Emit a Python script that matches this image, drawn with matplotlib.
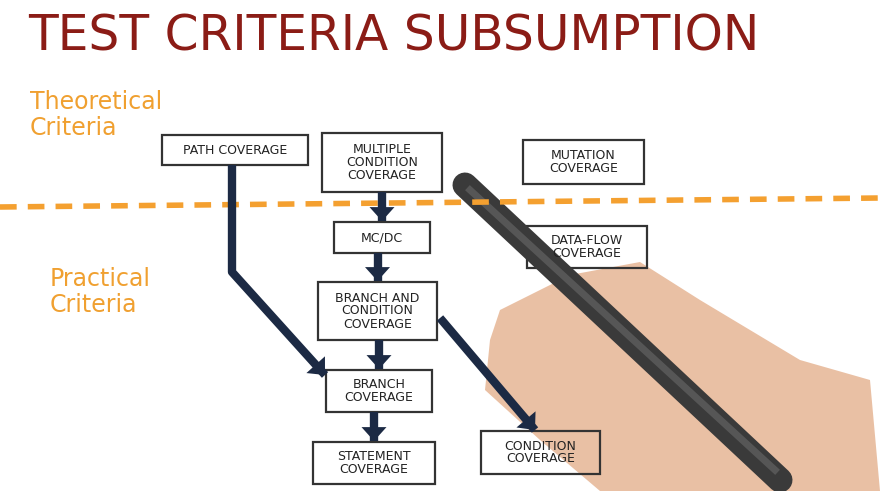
import matplotlib.pyplot as plt
from matplotlib.patches import Rectangle, Polygon

title = "TEST CRITERIA SUBSUMPTION"
zone_labels = ["Theoretical\nCriteria", "Practical\nCriteria"]
node_names = ["path", "mcc", "mut", "mcdc", "df", "bcc", "br", "st", "cond"]
node_labels = ["PATH COVERAGE", "MULTIPLE\nCONDITION\nCOVERAGE", "MUTATION\nCOVERAGE",
               "MC/DC", "DATA-FLOW\nCOVERAGE", "BRANCH AND\nCONDITION\nCOVERAGE",
               "BRANCH\nCOVERAGE", "STATEMENT\nCOVERAGE", "CONDITION\nCOVERAGE"]
edges = [("mcc", "mcdc"), ("mcdc", "bcc"), ("bcc", "br"), ("br", "st"),
         ("path", "br"), ("bcc", "cond")]

# layout (pixel boxes: x0, y0, x1, y1)
boxes = {"path": (162, 135, 308, 165), "mcc": (322, 133, 442, 192),
         "mut": (523, 140, 644, 184), "mcdc": (334, 222, 430, 253),
         "df": (527, 226, 647, 268), "bcc": (318, 282, 437, 340),
         "br": (326, 370, 432, 412), "st": (313, 442, 435, 484),
         "cond": (481, 431, 600, 474)}
ink = "#1c2a44"
fig = plt.figure(figsize=(8.8, 4.91), dpi=100)
ax = fig.add_axes([0, 0, 1, 1])
ax.set_xlim(0, 880)
ax.set_ylim(491, 0)
ax.axis("off")

# hand and pen (drawn first so the diagram stays readable)
ax.add_patch(Polygon([(500, 310), (570, 275), (640, 262), (700, 300), (800, 360),
                      (870, 380), (880, 491), (600, 491), (540, 440), (485, 390),
                      (490, 340)], fc="#e6b594", ec="none", alpha=0.85))
ax.plot([465, 780], [185, 480], color="#3a3a3a", lw=18, solid_capstyle="round")
ax.plot([470, 775], [190, 470], color="#6a6a6a", lw=5, alpha=0.6)

ax.text(28, 36, title, fontsize=35, color="#8b1c16", va="center", ha="left",
        family="DejaVu Sans")
ax.text(30, 115, zone_labels[0], fontsize=17, color="#f0a030", va="center", linespacing=1.1)
ax.text(50, 292, zone_labels[1], fontsize=17, color="#f0a030", va="center", linespacing=1.1)
ax.plot([0, 880], [207, 198], color="#f4a030", lw=4, ls=(0, (3, 2)))

for name, lab in zip(node_names, node_labels):
    x0, y0, x1, y1 = boxes[name]
    ax.add_patch(Rectangle((x0, y0), x1 - x0, y1 - y0, fill=False, ec="#333", lw=1.6))
    ax.text((x0 + x1) / 2, (y0 + y1) / 2, lab, ha="center", va="center",
            fontsize=9, color="#222", linespacing=1.0)

def arrow(pts):
    xs, ys = zip(*pts)
    ax.plot(xs, ys, color=ink, lw=6, solid_capstyle="butt")
    ax.annotate("", xy=pts[-1], xytext=pts[-2],
                arrowprops=dict(arrowstyle="-|>,head_width=0.9,head_length=1.0",
                                color=ink, lw=0, shrinkA=0, shrinkB=0))

for a, b in edges:
    ax0, ay0, ax1, ay1 = boxes[a]
    bx0, by0, bx1, by1 = boxes[b]
    if a == "path":
        arrow([(232, ay1), (232, 272), (325, 375)])
    elif a == "bcc" and b == "cond":
        arrow([(440, 318), (535, 430)])
    else:
        cx = (bx0 + bx1) / 2
        arrow([(cx, ay1), (cx, by0 - 1)])

fig.savefig("out.png")
